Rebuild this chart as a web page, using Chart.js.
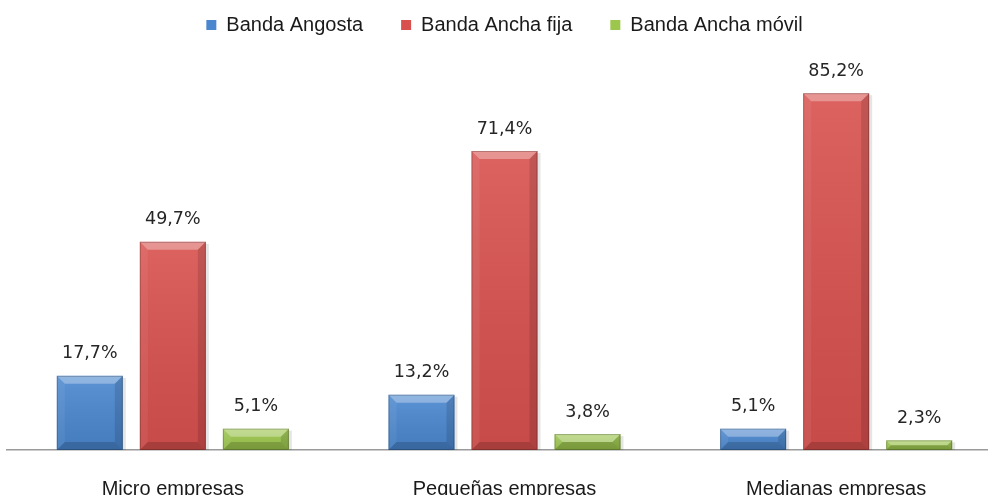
<!DOCTYPE html>
<html>
<head>
<meta charset="utf-8">
<script src="https://cdn.jsdelivr.net/npm/chart.js@4"></script>
<style>
  html, body { margin: 0; padding: 0; background: #fff; overflow: hidden; }
  #wrap { position: absolute; left: 0; top: 0; width: 1010px; height: 528px; }
</style>
</head>
<body>
<div id="wrap"><canvas id="chart"></canvas></div>
<script>
  'use strict';

  const categories = ['Micro empresas', 'Pequeñas empresas', 'Medianas empresas'];
  const seriesNames = ['Banda Angosta', 'Banda Ancha fija', 'Banda Ancha móvil'];
  const bandaAngosta = [17.7, 13.2, 5.1];
  const bandaAnchaFija = [49.7, 71.4, 85.2];
  const bandaAnchaMovil = [5.1, 3.8, 2.3];
  const colors = ['#4a87cf', '#d8514e', '#9cc64c'];

  const fmt = (v) => `${v.toFixed(1).replace('.', ',')}%`;

  // bevel look: light top/left, dark bottom/right, drawn from each bar element
  const bevelPlugin = {
    id: 'bevel',
    beforeDatasetsDraw(chart) {
      const c = chart.ctx;
      c.save();
      chart.data.datasets.forEach((ds, i) => {
        chart.getDatasetMeta(i).data.forEach((bar) => {
          const { x, y, base, width } = bar.getProps(['x', 'y', 'base', 'width'], true);
          c.fillStyle = 'rgba(0,0,0,0.10)';
          c.fillRect(x - width / 2 + 2, y + 2, width + 1, base - y - 2);
        });
      });
      c.restore();
    },
    afterDatasetsDraw(chart) {
      const c = chart.ctx;
      c.save();
      chart.data.datasets.forEach((ds, i) => {
        chart.getDatasetMeta(i).data.forEach((bar, j) => {
          const { x, y, base, width } = bar.getProps(['x', 'y', 'base', 'width'], true);
          const l = x - width / 2, r = x + width / 2, t = y, b = base;
          const bv = Math.min(8, (b - t) / 2);
          const g = c.createLinearGradient(0, t, 0, b);
          g.addColorStop(0, 'rgba(255,255,255,0.10)');
          g.addColorStop(1, 'rgba(0,0,0,0.08)');
          c.fillStyle = g;
          c.fillRect(l, t, width, b - t);
          const poly = (pts, fill) => {
            c.beginPath();
            c.moveTo(pts[0][0], pts[0][1]);
            pts.slice(1).forEach((p) => c.lineTo(p[0], p[1]));
            c.closePath();
            c.fillStyle = fill;
            c.fill();
          };
          poly([[l, t], [r, t], [r - bv, t + bv], [l + bv, t + bv]], 'rgba(255,255,255,0.32)');
          poly([[l, t], [l + bv, t + bv], [l + bv, b - bv], [l, b]], 'rgba(255,255,255,0.06)');
          poly([[r, t], [r - bv, t + bv], [r - bv, b - bv], [r, b]], 'rgba(0,0,0,0.12)');
          poly([[l, b], [l + bv, b - bv], [r - bv, b - bv], [r, b]], 'rgba(0,0,0,0.16)');
          c.strokeStyle = 'rgba(0,0,0,0.22)';
          c.lineWidth = 1;
          c.strokeRect(l + 0.5, t + 0.5, width - 1, b - t - 1);

          c.fillStyle = '#262626';
          c.font = '17.5px "DejaVu Sans"';
          c.textAlign = 'center';
          c.textBaseline = 'middle';
          c.fillText(fmt(ds.data[j]), x, t - 22);
        });
      });
      c.restore();
    },
  };

  new Chart(document.getElementById('chart'), {
    type: 'bar',
    data: {
      labels: categories,
      datasets: [
        { label: seriesNames[0], data: bandaAngosta, backgroundColor: colors[0] },
        { label: seriesNames[1], data: bandaAnchaFija, backgroundColor: colors[1] },
        { label: seriesNames[2], data: bandaAnchaMovil, backgroundColor: colors[2] },
      ],
    },
    options: {
      responsive: true,
      maintainAspectRatio: false,
      animation: false,
      categoryPercentage: 0.751,
      barPercentage: 0.795,
      layout: { padding: { left: 7, right: 8, top: -23, bottom: 0 } },
      scales: {
        x: {
          grid: { display: false, drawTicks: false },
          border: { display: true, color: '#9a9a9a', width: 1.5 },
          ticks: { color: '#1a1a1a', font: { family: '"Liberation Sans"', size: 20 }, padding: 27 },
        },
        y: { display: false, min: 0, max: 96.7 },
      },
      plugins: {
        legend: {
          position: 'top',
          labels: {
            color: '#1a1a1a',
            font: { family: '"Liberation Sans"', size: 20 },
            boxWidth: 10,
            boxHeight: 10,
            padding: 38,
          },
        },
        tooltip: { enabled: false },
      },
    },
    plugins: [bevelPlugin],
  });
</script>
</body>
</html>
